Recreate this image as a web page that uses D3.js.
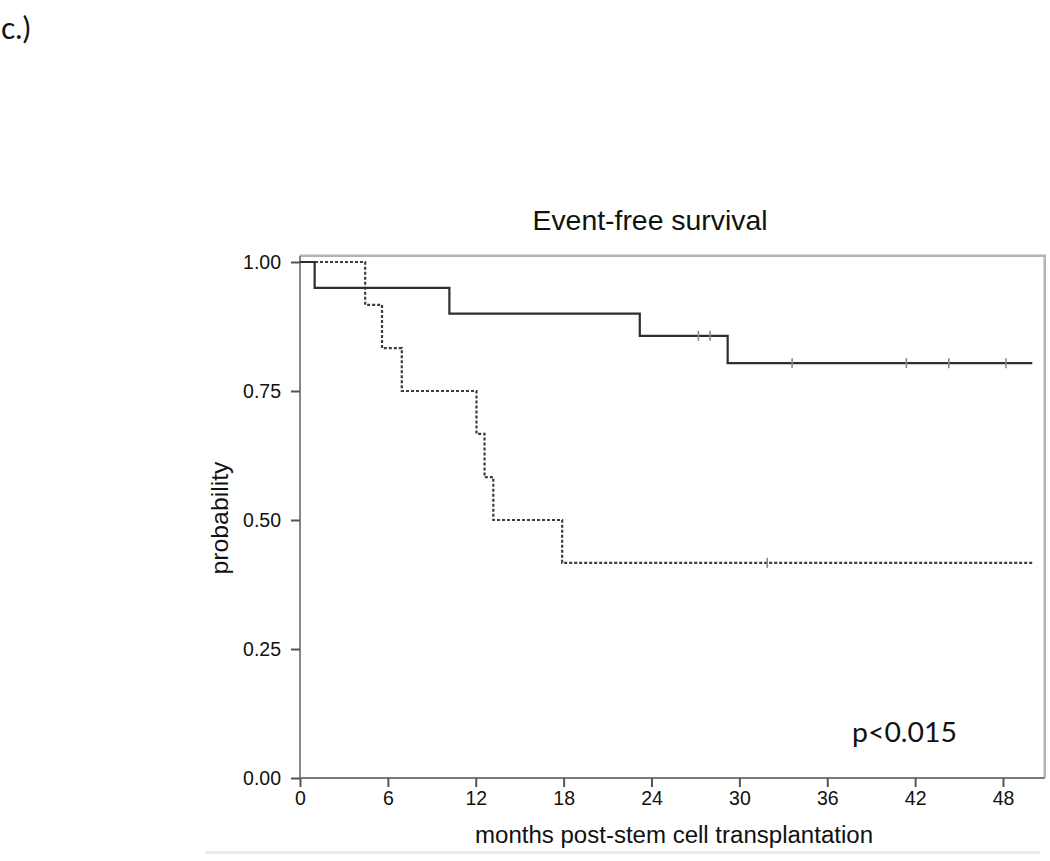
<!DOCTYPE html>
<html>
<head>
<meta charset="utf-8">
<script src="https://cdn.jsdelivr.net/npm/d3@7"></script>
<style>
  html, body { margin: 0; padding: 0; background: #fff; }
  svg { display: block; }
</style>
</head>
<body>
<svg id="chart" width="1050" height="861"></svg>
<script>
// ---- data ----
const xTicks = [0, 6, 12, 18, 24, 30, 36, 42, 48];
const yTicks = [0, 0.25, 0.5, 0.75, 1.0];
const yTickLabels = ["0.00", "0.25", "0.50", "0.75", "1.00"];

// group 1 (solid)
const solidTimes = [0, 1.0, 10.2, 23.2, 29.2, 50.0];
const solidSurv  = [1.0, 0.95, 0.90, 0.857, 0.804, 0.804];
const solidCensorTimes = [27.2, 28.0, 33.6, 41.4, 44.3, 48.2];
const solidCensorSurv  = [0.857, 0.857, 0.804, 0.804, 0.804, 0.804];

// group 2 (dashed)
const dashedTimes = [0, 4.45, 5.6, 6.95, 12.05, 12.6, 13.2, 17.9, 50.0];
const dashedSurv  = [1.0, 0.917, 0.833, 0.75, 0.667, 0.583, 0.5, 0.417, 0.417];
const dashedCensorTimes = [31.9];
const dashedCensorSurv  = [0.417];

const panelLabel = "c.)";
const title = "Event-free survival";
const xLabel = "months post-stem cell transplantation";
const yLabel = "probability";
const pText = "p<0.015";

// ---- layout ----
const svg = d3.select("#chart");
const x = d3.scaleLinear().domain([0, 48]).range([300, 1003]);
const y = d3.scaleLinear().domain([0, 1]).range([778, 262]);
const xMax = 50.85, yMax = 1.012;

// panel label
svg.append("text").attr("x", 1).attr("y", 39)
  .attr("font-family", "Lato, 'Open Sans', sans-serif").attr("font-size", 30)
  .attr("fill", "#111").text(panelLabel);

// frame (top and right)
svg.append("path")
  .attr("d", `M${x(0)},${y(yMax)} H${x(xMax)} V${y(0)}`)
  .attr("fill", "none").attr("stroke", "#b4b4b4").attr("stroke-width", 2.5);

// faint bottom line
svg.append("rect").attr("x", 205).attr("y", 851).attr("width", 835).attr("height", 3)
  .attr("fill", "#ececec");

// axes
const axisColor = "#7a7a7a";
const gx = svg.append("g").attr("transform", `translate(0,${y(0)})`)
  .call(d3.axisBottom(x).tickValues(xTicks).tickSize(9).tickSizeOuter(0).tickPadding(4));
gx.select(".domain").attr("d", `M${x(0)},0H${x(xMax)}`);
const gy = svg.append("g").attr("transform", `translate(${x(0)},0)`)
  .call(d3.axisLeft(y).tickValues(yTicks).tickFormat((d, i) => yTickLabels[i])
    .tickSize(9).tickSizeOuter(0).tickPadding(10));
gy.select(".domain").attr("d", `M0,${y(0)}V${y(yMax)}`);

[gx, gy].forEach(g => {
  g.select(".domain").attr("stroke", axisColor).attr("stroke-width", 1.8);
  g.selectAll(".tick line").attr("stroke", "#555").attr("stroke-width", 2);
  g.selectAll(".tick text").attr("font-family", "'Liberation Sans', Arial, sans-serif")
    .attr("font-size", 19.5).attr("fill", "#111");
});
gx.selectAll(".tick text").attr("dy", "0.71em");

// lines
const line = d3.line().curve(d3.curveStepAfter).x(d => x(d[0])).y(d => y(d[1]));
svg.append("path").datum(dashedTimes.map((t, i) => [t, dashedSurv[i]]))
  .attr("d", line).attr("fill", "none").attr("stroke", "#3c3c3c")
  .attr("stroke-width", 2.2).attr("stroke-dasharray", "3,2");
svg.append("path").datum(solidTimes.map((t, i) => [t, solidSurv[i]]))
  .attr("d", line).attr("fill", "none").attr("stroke", "#2e2e2e")
  .attr("stroke-width", 2.2);

// censor marks
const censors = solidCensorTimes.map((t, i) => [t, solidCensorSurv[i]])
  .concat(dashedCensorTimes.map((t, i) => [t, dashedCensorSurv[i]]));
svg.append("g").selectAll("line").data(censors).join("line")
  .attr("x1", d => x(d[0])).attr("x2", d => x(d[0]))
  .attr("y1", d => y(d[1]) - 5).attr("y2", d => y(d[1]) + 5)
  .attr("stroke", "#8a8a8a").attr("stroke-width", 1.6);

// title
svg.append("text").attr("x", 650).attr("y", 230).attr("text-anchor", "middle")
  .attr("font-family", "'Liberation Sans', Arial, sans-serif").attr("font-size", 28)
  .attr("textLength", 235).attr("lengthAdjust", "spacingAndGlyphs")
  .attr("fill", "#111").text(title);

// x label
svg.append("text").attr("x", 674).attr("y", 843).attr("text-anchor", "middle")
  .attr("font-family", "'Liberation Sans', Arial, sans-serif").attr("font-size", 23)
  .attr("textLength", 398).attr("lengthAdjust", "spacingAndGlyphs")
  .attr("fill", "#111").text(xLabel);

// y label
svg.append("text").attr("transform", "translate(228,518) rotate(-90)")
  .attr("text-anchor", "middle")
  .attr("font-family", "'Liberation Sans', Arial, sans-serif").attr("font-size", 24)
  .attr("textLength", 113).attr("lengthAdjust", "spacingAndGlyphs")
  .attr("fill", "#111").text(yLabel);

// p value
svg.append("text").attr("x", 852).attr("y", 742)
  .attr("font-family", "Lato, 'Open Sans', sans-serif").attr("font-size", 27)
  .attr("textLength", 105).attr("lengthAdjust", "spacingAndGlyphs")
  .attr("fill", "#111").text(pText);
</script>
</body>
</html>
